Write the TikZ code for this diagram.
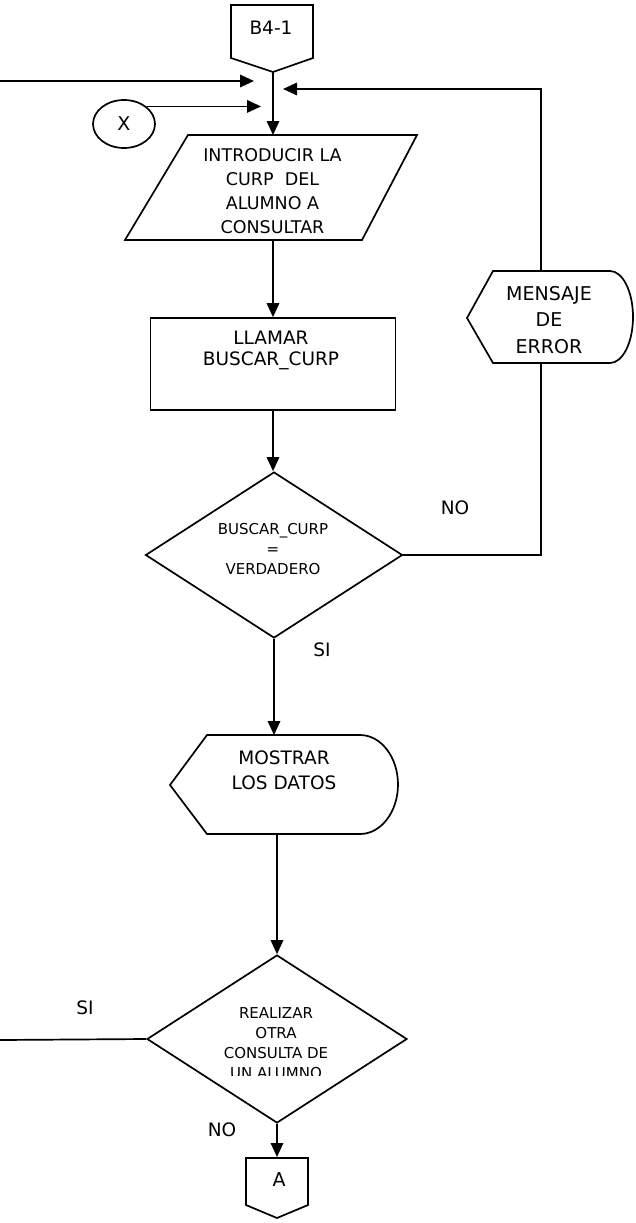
\documentclass[tikz,border=0pt]{standalone}
\usepackage{fontspec}
\setmainfont{DejaVu Sans}
\usetikzlibrary{arrows.meta,shapes.geometric}

\newcommand{\fsz}[2]{\fontsize{#1}{#2}\selectfont}

\begin{document}
\begin{tikzpicture}[x=1pt,y=-1pt,
  line width=1.7pt, line join=miter,
  flow/.style={-{Triangle[length=14pt,width=12.5pt]}},
  txt/.style={align=center, inner sep=0pt, font=\fsz{18.5}{25}},
  boxnode/.style={draw, rectangle, inner sep=0pt},
  decision/.style={draw, diamond, inner sep=0pt},
  conn/.style={draw, ellipse, inner sep=0pt, font=\fsz{19}{22}},
]
\useasboundingbox (0,0) rectangle (635,1223);

% ---- off-page connector B4-1
\draw (231,5) -- (313,5) -- (313,58) -- (273,72) -- (231,58) -- cycle;
\node[txt] (b41) at (271,28) {B4-1};
\coordinate (b41-out) at (273,72);

% ---- incoming flows at the top
\coordinate (loop-in) at (0,81);
\coordinate (loop-tip) at (254,81);
\node[conn, minimum width=62pt, minimum height=48pt] (x) at (124,124) {X};
\coordinate (x-tip) at (261,107);

% ---- input: CURP
\draw (188,135) -- (417,135) -- (362,240) -- (125,240) -- cycle;
\coordinate (inp-in) at (273,135);
\coordinate (inp-out) at (273,240);
\node[txt, font=\fsz{17.5}{24}] (inp) at (272.5,191)
  {INTRODUCIR LA\\CURP~~DEL\\ALUMNO A\\CONSULTAR};

% ---- process: LLAMAR BUSCAR_CURP
\node[boxnode, minimum width=245pt, minimum height=92pt] (call) at (273,364) {};
\node[txt, font=\fsz{18.5}{21.5}] (call-t) at (271,350.5) {LLAMAR\\BUSCAR\_CURP};

% ---- decision 1
\node[decision, minimum width=257pt, minimum height=166pt] (dec1) at (274,555) {};
\node[txt, font=\fsz{15}{20}] (dec1-t) at (273,549) {BUSCAR\_CURP\\=\\VERDADERO};

% ---- display: MENSAJE DE ERROR
\draw (467,318) -- (493,271) -- (610,271)
  .. controls (622.7,271) and (633,291.6) .. (633,317)
  .. controls (633,342.4) and (622.7,363) .. (610,363)
  -- (493,363) -- cycle;
\node[txt, font=\fsz{19}{26.5}] (msg) at (549,320) {MENSAJE\\DE\\ERROR};
\coordinate (msg-bot) at (541,363);
\coordinate (msg-top) at (541,271);
\coordinate (ret-tip) at (283,89);

% ---- display: MOSTRAR LOS DATOS
\draw (170,785) -- (207,735) -- (360,735)
  .. controls (381,735) and (398,757.2) .. (398,784.5)
  .. controls (398,811.8) and (381,834) .. (360,834)
  -- (207,834) -- cycle;
\node[txt] (show) at (284,770) {MOSTRAR\\LOS DATOS};
\coordinate (show-in) at (274,735);
\coordinate (show-out) at (277,834);

% ---- decision 2
\node[decision, minimum width=260pt, minimum height=168pt] (dec2) at (277,1039) {};
\begin{scope}
  \clip (150,985) rectangle (405,1075.5);
  \node[txt, font=\fsz{15}{20}] (dec2-t) at (276,1043)
    {REALIZAR\\OTRA\\CONSULTA DE\\UN ALUMNO};
\end{scope}
\coordinate (loop-out) at (0,1040);

% ---- off-page connector A
\draw (246,1158) -- (308,1158) -- (308,1205) -- (277,1218) -- (246,1205) -- cycle;
\node[txt, font=\fsz{19}{22}] (a) at (279,1180) {A};
\coordinate (a-in) at (277,1157);

% ---- branch labels
\node[txt] (no1) at (455,508) {NO};
\node[txt] (si1) at (322,650) {SI};
\node[txt] (si2) at (85,1008) {SI};
\node[txt] (no2) at (222,1130) {NO};

% ---- connectors
\draw[flow] (loop-in) -- (loop-tip);
\draw[flow] (x.38) -- (x.38 -| x-tip);
\draw[flow] (b41-out) -- (inp-in);
\draw[flow] (inp-out) -- (call.north);
\draw[flow] (call.south) -- (call.south |- dec1.north);
\draw (dec1.east) -- (dec1.east -| msg-bot) -- (msg-bot);
\draw[flow] (msg-top) -- (msg-top |- ret-tip) -- (ret-tip);
\draw[flow] (dec1.south) -- (show-in);
\draw[flow] (show-out) -- (dec2.north);
\draw (dec2.west) -- (loop-out);
\draw[flow] (dec2.south) -- (a-in);
\end{tikzpicture}
\end{document}
